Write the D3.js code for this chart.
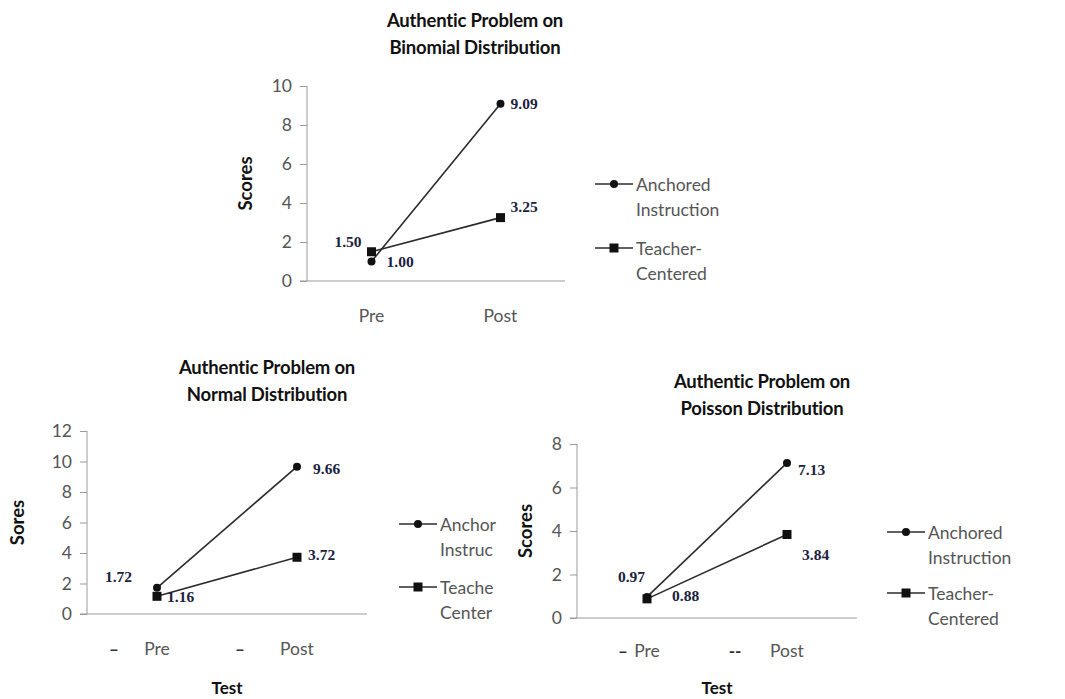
<!DOCTYPE html>
<html><head><meta charset="utf-8">
<script src="https://cdn.jsdelivr.net/npm/d3@7"></script>
<style>body{margin:0;background:#fff}svg{display:block}</style>
</head><body>
<svg id="chart" width="1065" height="699"></svg>
<script>
// ---- data ----
const categories = ["Pre", "Post"];
const seriesNames = ["Anchored Instruction", "Teacher-Centered"];
const binomialAnchored = [1.00, 9.09];
const binomialTeacher = [1.50, 3.25];
const normalAnchored = [1.72, 9.66];
const normalTeacher = [1.16, 3.72];
const poissonAnchored = [0.97, 7.13];
const poissonTeacher = [0.88, 3.84];
const binomialTicks = [0, 2, 4, 6, 8, 10];
const normalTicks = [0, 2, 4, 6, 8, 10, 12];
const poissonTicks = [0, 2, 4, 6, 8];
const titles = [
  ["Authentic Problem on", "Binomial Distribution"],
  ["Authentic Problem on", "Normal Distribution"],
  ["Authentic Problem on", "Poisson Distribution"]
];
const yTitles = ["Scores", "Sores", "Scores"];
const xTitles = ["", "Test", "Test"];
const legendLines = [["Anchored", "Instruction"], ["Teacher-", "Centered"]];
const legendLinesClipped = [["Anchor", "Instruc"], ["Teache", "Center"]];

// ---- layout / style ----
const svg = d3.select("#chart");
const FONT = "Lato, 'Open Sans', sans-serif";
const panels = [
  { x0: 307, x1: 565, yTop: 86, yBot: 281, max: 10, ticks: binomialTicks,
    a: binomialAnchored, t: binomialTeacher, titleX: 475, titleY: 20,
    yLabX: 245, xLabY: 315, xTitleY: null, legX: 595, legY: [184, 248], legClip: null,
    labelOff: { a: [[15, 0, "start"], [10, 0, "start"]], t: [[-10, -10, "end"], [10, -11, "start"]] },
    dashes: null, legendText: legendLines },
  { x0: 87, x1: 367, yTop: 431, yBot: 614, max: 12, ticks: normalTicks,
    a: normalAnchored, t: normalTeacher, titleX: 267, titleY: 367,
    yLabX: 17, xLabY: 648, xTitleY: 687, legX: 399, legY: [524, 587], legClip: 502,
    labelOff: { a: [[-25, -11, "end"], [16, 2, "start"]], t: [[10, 0, "start"], [11, -3, "start"]] },
    dashes: [["–", -43], ["–", -57]], legendText: legendLinesClipped },
  { x0: 577, x1: 857, yTop: 444, yBot: 618, max: 8, ticks: poissonTicks,
    a: poissonAnchored, t: poissonTeacher, titleX: 762, titleY: 381,
    yLabX: 525, xLabY: 650, xTitleY: 687, legX: 887, legY: [532, 593], legClip: null,
    labelOff: { a: [[-2, -20, "end"], [11, 7, "start"]], t: [[25, -3, "start"], [15, 20, "start"]] },
    dashes: [["–", -24], ["--", -52]], legendText: legendLines }
];

svg.append("defs").append("clipPath").attr("id", "legclip")
  .append("rect").attr("x", 0).attr("y", 0).attr("width", 502).attr("height", 699);

panels.forEach((p, i) => {
  const g = svg.append("g");
  const x = d3.scaleBand().domain(categories).range([p.x0, p.x1]);
  const y = d3.scaleLinear().domain([0, p.max]).range([p.yBot, p.yTop]);
  const cx = c => x(c) + x.bandwidth() / 2;

  // title
  titles[i].forEach((t, k) => g.append("text").attr("x", p.titleX).attr("y", p.titleY + k * 27)
    .attr("text-anchor", "middle").attr("dominant-baseline", "central")
    .style("font-family", FONT).style("font-weight", "bold").style("font-size", "18.5px")
    .style("letter-spacing", "-0.2px").style("fill", "#111").text(t));

  // y axis
  const ya = g.append("g").attr("transform", `translate(${p.x0},0)`)
    .call(d3.axisLeft(y).tickValues(p.ticks).tickSize(7).tickPadding(8).tickFormat(d3.format("d")));
  ya.select(".domain").attr("stroke", "#9a9a9a").attr("d", `M0,${p.yTop}V${p.yBot}`);
  ya.selectAll(".tick line").attr("stroke", "#9a9a9a");
  ya.selectAll(".tick text").style("font-family", FONT).style("font-size", "17.5px").style("fill", "#555");

  // x axis
  g.append("line").attr("x1", p.x0 - 7).attr("x2", p.x1).attr("y1", p.yBot).attr("y2", p.yBot)
    .attr("stroke", "#9a9a9a");
  categories.forEach((c, k) => {
    g.append("text").attr("x", cx(c)).attr("y", p.xLabY).attr("text-anchor", "middle")
      .attr("dominant-baseline", "central").style("font-family", FONT).style("font-size", "17.5px")
      .style("fill", "#555").text(c);
    if (p.dashes) g.append("text").attr("x", cx(c) + p.dashes[k][1]).attr("y", p.xLabY)
      .attr("text-anchor", "middle").attr("dominant-baseline", "central")
      .style("font-family", FONT).style("font-size", "17px").style("font-weight", "bold")
      .style("fill", "#333").text(p.dashes[k][0]);
  });

  // axis titles
  g.append("text").attr("transform", `translate(${p.yLabX},${(p.yTop + p.yBot) / 2}) rotate(-90)`)
    .attr("text-anchor", "middle").attr("dominant-baseline", "central")
    .style("font-family", FONT).style("font-weight", "bold").style("font-size", "18.5px")
    .style("fill", "#111").text(yTitles[i]);
  if (p.xTitleY) g.append("text").attr("x", (p.x0 + p.x1) / 2).attr("y", p.xTitleY)
    .attr("text-anchor", "middle").attr("dominant-baseline", "central")
    .style("font-family", FONT).style("font-weight", "bold").style("font-size", "17px")
    .style("fill", "#111").text(xTitles[i]);

  // lines
  const line = d3.line().x((d, k) => cx(categories[k])).y(d => y(d));
  [p.a, p.t].forEach(vals => g.append("path").datum(vals).attr("d", line)
    .attr("fill", "none").attr("stroke", "#2b2b2b").attr("stroke-width", 1.6));

  // markers
  g.selectAll(null).data(p.t).enter().append("rect")
    .attr("x", (d, k) => cx(categories[k]) - 4.5).attr("y", d => y(d) - 4.5)
    .attr("width", 9).attr("height", 9).attr("fill", "#111");
  g.selectAll(null).data(p.a).enter().append("circle")
    .attr("cx", (d, k) => cx(categories[k])).attr("cy", d => y(d)).attr("r", 4).attr("fill", "#111");

  // data labels
  [["a", p.a], ["t", p.t]].forEach(([key, vals]) => vals.forEach((v, k) => {
    const o = p.labelOff[key][k];
    g.append("text").attr("x", cx(categories[k]) + o[0]).attr("y", y(v) + o[1])
      .attr("text-anchor", o[2]).attr("dominant-baseline", "central")
      .style("font-family", "'Liberation Serif', 'Times New Roman', serif").style("font-weight", "bold")
      .style("font-size", "15.5px").style("fill", "#1b2240").text(v.toFixed(2));
  }));

  // legend
  const lg = g.append("g");
  if (p.legClip) lg.attr("clip-path", "url(#legclip)");
  [0, 1].forEach(s => {
    const ly = p.legY[s];
    lg.append("line").attr("x1", p.legX).attr("x2", p.legX + 38).attr("y1", ly).attr("y2", ly)
      .attr("stroke", "#2b2b2b").attr("stroke-width", 1.6);
    if (s === 0) lg.append("circle").attr("cx", p.legX + 19).attr("cy", ly).attr("r", 4).attr("fill", "#111");
    else lg.append("rect").attr("x", p.legX + 14.5).attr("y", ly - 4.5).attr("width", 9).attr("height", 9).attr("fill", "#111");
    p.legendText[s].forEach((t, k) => lg.append("text").attr("x", p.legX + 41).attr("y", ly + k * 25.5)
      .attr("dominant-baseline", "central").style("font-family", FONT).style("font-size", "17.5px")
      .style("fill", "#555").text(t));
  });
});
</script>
</body></html>
